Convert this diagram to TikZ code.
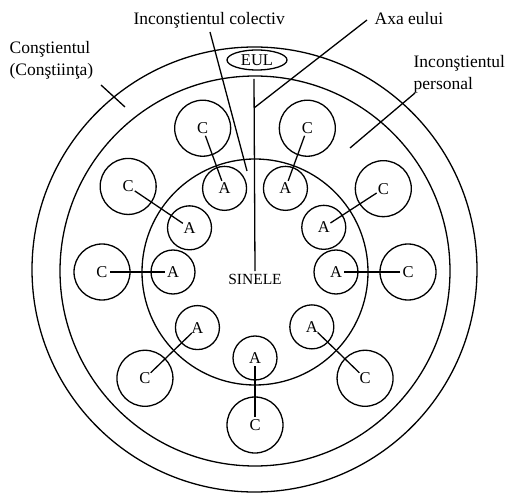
\documentclass[tikz,border=0pt]{standalone}
\usepackage{fontspec}
\setmainfont{Liberation Serif}
\usepackage{tikz}
\usetikzlibrary{shapes.geometric}
\newcommand{\psychetext}{\fontsize{17.5}{22}\selectfont}
\newcommand{\circtext}{\fontsize{16.5}{19}\selectfont}
\newcommand{\selftext}{\fontsize{15.5}{18}\selectfont}

\begin{document}
\begin{tikzpicture}[x=1pt,y=1pt,font=\psychetext,line width=1.3pt,
  arch/.style={draw,circle,minimum size=44pt,inner sep=0pt,font=\circtext},
  cplx/.style={draw,circle,minimum size=56pt,inner sep=0pt,font=\circtext},
  tag/.style={inner sep=0pt,align=left}]
\useasboundingbox (0,0) rectangle (511,493);

% the three spheres of the psyche
\coordinate (outer) at (254.5,223.5);
\coordinate (mid) at (255,222);
\coordinate (self) at (255,221);
\draw (outer) circle (222.5);
\draw (mid) circle (195);
\draw (self) circle (113);

\node[draw,ellipse,minimum width=60pt,minimum height=20pt,inner sep=0pt,font=\circtext] (eul) at (257,433) {EUL};
\node[font=\selftext,inner sep=2pt] (sinele) at (255,214) {SINELE};

% archetypes (A) with their complexes (C)
\foreach \ang/\rad [count=\i] in {110/89,146/79,180/82,224/80,270/86,316/79,0/81,33/82,70/89}{
  \node[arch] (a\i) at ([shift={(\ang:\rad)}]self) {A};
  \node[cplx] (c\i) at ([shift={(\ang:153)}]self) {C};
  \draw[shorten <=8pt,shorten >=8pt] (c\i.center) -- (a\i.center);
}

% labels
\node[tag,anchor=base west] (colectiv) at (133,468) {Inconştientul colectiv};
\node[tag,anchor=base west] (axa) at (374,468) {Axa eului};
\node[tag,anchor=base west] (constient) at (9,417) {Conştientul\\(Conştiinţa)};
\node[tag,anchor=base west] (personal) at (413,403) {Inconştientul\\personal};

\coordinate (colstart) at (210,461);
\coordinate (colend) at (247,322);
\coordinate (axtop) at (254,414);
\coordinate (axmid) at (254,385);
\coordinate (axstart) at (367,473);
\coordinate (cstart) at (101,408);
\coordinate (cend) at (125,386);
\coordinate (pstart) at (415,400);
\coordinate (pend) at (350,345);

\draw (colstart) -- (colend);
\draw (axtop) -- (sinele.north);
\draw (axstart) -- (axmid);
\draw (cstart) -- (cend);
\draw (pstart) -- (pend);
\end{tikzpicture}
\end{document}
